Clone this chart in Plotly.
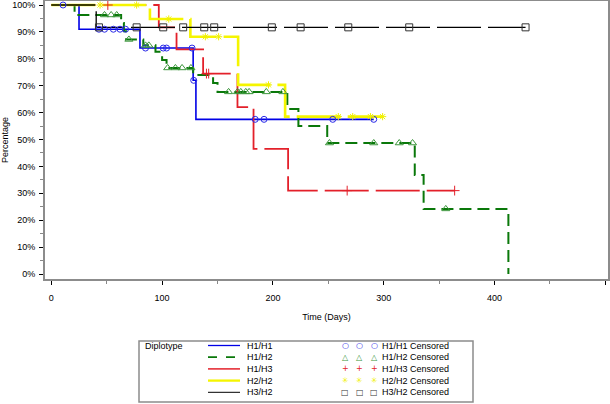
import numpy as np
import plotly.graph_objects as go

# ---------------- data ----------------
groups = ["H1/H1", "H1/H2", "H1/H3", "H2/H2", "H3/H2"]

# H1/H1
h11_time = [0, 25, 80, 128, 130.5, 291]
h11_surv = [1.0, 0.91, 0.84, 0.72, 0.575, 0.575]
h11_cens = [10.6, 43, 48, 56, 62, 67, 85, 101, 104, 127, 128.5, 184, 192, 254, 291]

# H1/H2
h12_time = [0, 21, 63, 65.5, 67.5, 83, 94, 100, 104, 128, 146, 150, 213, 223, 249, 328, 336, 412.5]
h12_surv = [1.0, 0.963, 0.933, 0.902, 0.872, 0.85, 0.826, 0.796, 0.766, 0.74, 0.71, 0.677,
            0.613, 0.55, 0.487, 0.368, 0.242, 0.0]
h12_cens = [48, 54, 59, 70, 85, 88, 105, 112, 118, 126, 160, 168, 171, 175.5, 178.5, 194, 209,
            251, 291, 314, 326, 356]

# H1/H3
h13_time = [0, 97, 113, 137, 168, 182.5, 213.7, 364]
h13_surv = [1.0, 0.917, 0.835, 0.745, 0.62, 0.465, 0.31, 0.31]
h13_cens = [51, 140, 142, 267, 364]

# H2/H2
h22_time = [0, 89, 125.5, 168.6, 211, 299]
h22_surv = [1.0, 0.948, 0.882, 0.703, 0.585, 0.585]
h22_cens = [44, 77, 106, 139, 151, 196, 259, 272, 288, 299]

# H3/H2
h32_time = [0, 40.5, 428]
h32_surv = [1.0, 0.917, 0.917]
h32_cens = [43, 77, 101, 119, 138, 147, 199, 225, 268, 323, 428]

x_ticks = [0, 100, 200, 300, 400, 500]
y_ticks = [0, 0.1, 0.2, 0.3, 0.4, 0.5, 0.6, 0.7, 0.8, 0.9, 1.0]

# ---------------- styles ----------------
W, H = 610, 404
ML, MR, MT, MB = 45, 2, 1, 125
FONT = "Liberation Sans, Arial, sans-serif"

styles = {
    "H1/H1": dict(color="#0000e6", width=1.6, dash="solid",
                  msym="circle-open", mcol="#2a2ae8", msize=6, lsym="\u25cb"),
    "H1/H2": dict(color="#0a780a", width=2.0, dash="12px,6px",
                  msym="triangle-up-open", mcol="#3c963c", msize=7, lsym="\u25b3"),
    "H1/H3": dict(color="#e3202a", width=1.8, dash="44px,7px",
                  msym="cross-thin-open", mcol="#e3202a", msize=7, lsym="+"),
    "H2/H2": dict(color="#f5f500", width=2.6, dash="44px,7px",
                  msym="asterisk-open", mcol="#f0f000", msize=6, lsym="\u2733"),
    "H3/H2": dict(color="#000000", width=1.3, dash="44px,7px",
                  msym="square-open", mcol="#333333", msize=7, lsym="\u25a1"),
}

data = {
    "H1/H1": (h11_time, h11_surv, h11_cens),
    "H1/H2": (h12_time, h12_surv, h12_cens),
    "H1/H3": (h13_time, h13_surv, h13_cens),
    "H2/H2": (h22_time, h22_surv, h22_cens),
    "H3/H2": (h32_time, h32_surv, h32_cens),
}


def step_value(times, surv, c):
    idx = np.searchsorted(np.asarray(times), c, side="right") - 1
    return np.asarray(surv)[idx]


fig = go.Figure()

for g in groups:
    t, s, _ = data[g]
    st = styles[g]
    fig.add_trace(go.Scatter(
        x=t, y=s, mode="lines", line_shape="hv", name=g, showlegend=False,
        line=dict(color=st["color"], width=st["width"], dash=st["dash"]),
        hoverinfo="skip"))

for g in groups:
    t, s, c = data[g]
    st = styles[g]
    fig.add_trace(go.Scatter(
        x=c, y=step_value(t, s, c), mode="markers", name=g + " Censored", showlegend=False,
        marker=dict(symbol=st["msym"], size=st["msize"], color=st["mcol"],
                    line=dict(color=st["mcol"], width=1)),
        hoverinfo="skip"))

# ---------------- custom legend (paper coords from pixels) ----------------
PW = W - ML - MR
PH = H - MT - MB


def px_x(px):
    return (px - ML) / PW


def px_y(py):
    return (H - MB - py) / PH


shapes = [dict(type="rect", xref="paper", yref="paper",
               x0=px_x(139), x1=px_x(473), y0=px_y(402), y1=px_y(341),
               line=dict(color="#8c8c8c", width=1.5), fillcolor="rgba(0,0,0,0)")]
annotations = [dict(text="Diplotype", xref="paper", yref="paper", x=px_x(143), y=px_y(345.5),
                    xanchor="left", yanchor="middle", showarrow=False,
                    font=dict(family=FONT, size=9, color="black"))]

row_y = [345.5, 357.2, 368.9, 380.6, 392.3]
for g, ry in zip(groups, row_y):
    st = styles[g]
    shapes.append(dict(type="line", xref="paper", yref="paper",
                       x0=px_x(208), x1=px_x(240), y0=px_y(ry), y1=px_y(ry),
                       line=dict(color=st["color"], width=max(st["width"] - 0.3, 1),
                                 dash="9px,9px" if g == "H1/H2" else "solid")))
    annotations.append(dict(text=g, xref="paper", yref="paper", x=px_x(245), y=px_y(ry),
                            xanchor="left", yanchor="middle", showarrow=False,
                            font=dict(family=FONT, size=9, color="black")))
    for mx in (345, 359.5, 374):
        annotations.append(dict(text=st["lsym"], xref="paper", yref="paper", x=px_x(mx),
                                y=px_y(ry), xanchor="center", yanchor="middle",
                                showarrow=False,
                                font=dict(family="DejaVu Sans", size=8, color=st["mcol"])))
    annotations.append(dict(text=g + " Censored", xref="paper", yref="paper", x=px_x(380),
                            y=px_y(ry), xanchor="left", yanchor="middle", showarrow=False,
                            font=dict(family=FONT, size=9, color="black")))

axis_common = dict(showline=True, linecolor="#8c8c8c", linewidth=2, mirror=True,
                   showgrid=False, zeroline=False, ticks="outside", ticklen=4,
                   tickcolor="black", tickwidth=1, automargin=False,
                   tickfont=dict(family=FONT, size=9, color="black"))

fig.update_layout(
    width=W, height=H,
    margin=dict(l=ML, r=MR, t=MT, b=MB),
    paper_bgcolor="white", plot_bgcolor="white",
    showlegend=False,
    xaxis=dict(range=[-5.7, 502.4], tickvals=x_ticks, ticktext=[str(v) for v in x_ticks],
               ticklabelstandoff=5,
               minor=dict(ticks="outside", dtick=50, ticklen=3, tickcolor="#888888"),
               title=dict(text="Time (Days)", standoff=12,
                          font=dict(family=FONT, size=9, color="black")),
               **axis_common),
    yaxis=dict(range=[-0.0186, 1.0149], tickvals=y_ticks, tickformat=".0%",
               ticklabelstandoff=2,
               minor=dict(ticks="outside", dtick=0.05, ticklen=3, tickcolor="#888888"),
               title=dict(text="Percentage", standoff=2,
                          font=dict(family=FONT, size=9, color="black")),
               **axis_common),
    shapes=shapes,
    annotations=annotations,
)

fig.write_html("out.html",
               config={"displayModeBar": False, "staticPlot": True},
               post_script="document.body.style.margin='0';document.body.style.overflow='hidden';")
